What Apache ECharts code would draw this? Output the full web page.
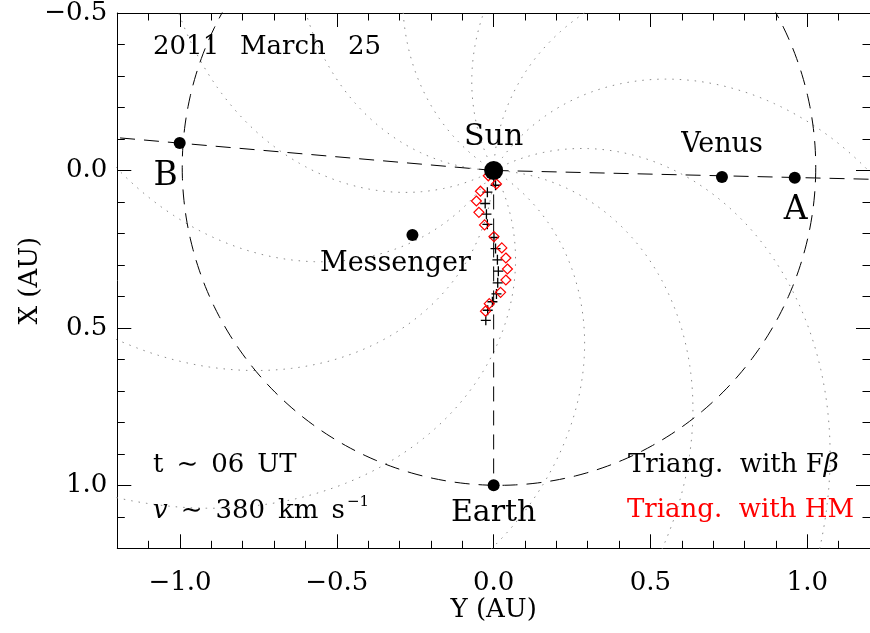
<!DOCTYPE html>
<html><head><meta charset="utf-8">
<script src="https://cdn.jsdelivr.net/npm/echarts@6/dist/echarts.min.js"></script>
<style>html,body{margin:0;padding:0;background:#fff}#c{width:870px;height:633px}</style>
</head><body><div id="c"></div>
<script>
// ---------- data ----------
const xTickValues = [-1.0, -0.5, 0.0, 0.5, 1.0];
const xTickLabels = ['−1.0', '−0.5', '0.0', '0.5', '1.0'];
const xMinorTicks = [-1.2,-1.1,-1.0,-0.9,-0.8,-0.7,-0.6,-0.5,-0.4,-0.3,-0.2,-0.1,0.0,0.1,0.2,0.3,0.4,0.5,0.6,0.7,0.8,0.9,1.0,1.1,1.2];
const yTickValues = [-0.5, 0.0, 0.5, 1.0];
const yTickLabels = ['−0.5', '0.0', '0.5', '1.0'];
const yMinorTicks = [-0.5,-0.4,-0.3,-0.2,-0.1,0.0,0.1,0.2,0.3,0.4,0.5,0.6,0.7,0.8,0.9,1.0,1.1,1.2];

const bodyNames = ['Sun', 'Venus', 'Earth', 'Messenger', 'A', 'B'];
const bodyY = [0.0, 0.728, 0.0, -0.259, 0.960, -1.001];
const bodyX = [0.0, 0.021, 1.0, 0.205, 0.023, -0.087];

const fbetaY = [0.006,-0.020,-0.027,-0.023,-0.020,0.001,0.006,0.012,0.015,0.013,0.009,-0.004,-0.019,-0.025];
const fbetaX = [0.047,0.069,0.105,0.139,0.171,0.213,0.248,0.284,0.320,0.357,0.392,0.417,0.444,0.476];
const hmY = [-0.017,0.009,-0.042,-0.055,-0.047,-0.029,0.001,0.026,0.039,0.044,0.039,0.022,-0.014,-0.026];
const hmX = [0.017,0.043,0.066,0.097,0.133,0.173,0.210,0.246,0.278,0.313,0.348,0.387,0.423,0.447];

const lineBY = [0.0, -1.2], lineBX = [0.0, -0.104];
const lineAY = [0.0, 1.2],  lineAX = [0.0, 0.028];
const earthLineY = [0.0, 0.0], earthLineX = [0.0, 1.0];

const orbitCenterY = 0.017, orbitCenterX = -0.01, orbitRadius = 1.01;
const spiralScaleAU = 1.18;         // AU per radian of winding (v ~ 380 km/s)
const spiralPhasesDeg = [-2, 28, 58, 88, 118, 148, 178, 208, 238, 268, 298, 328];

// ---------- build ----------
const FONT = 'DejaVu Serif';
const SP = '\u2002';
function pairs(a, b) { return a.map((v, i) => [v, b[i]]); }
function fmt(values, labels) {
  return v => { let k = 0, d = 1e9; values.forEach((t, i) => { if (Math.abs(t - v) < d) { d = Math.abs(t - v); k = i; } }); return labels[k]; };
}
const spiralSeries = spiralPhasesDeg.map(p => {
  const pts = [];
  for (let i = 0; i <= 230; i++) {
    const r = i * 0.01;
    const th = p * Math.PI / 180 - r / spiralScaleAU;
    pts.push([r * Math.cos(th), -r * Math.sin(th)]);
  }
  return { type: 'line', data: pts, symbol: 'none', silent: true, animation: false, clip: true,
    lineStyle: { color: '#8a8a8a', width: 1, type: [1.5, 6] }, z: 1 };
});
const orbitPts = [];
for (let i = 0; i <= 360; i++) {
  const a = i * Math.PI / 180;
  orbitPts.push([orbitCenterY + orbitRadius * Math.cos(a), orbitCenterX + orbitRadius * Math.sin(a)]);
}
const dash = { color: '#000', width: 1, type: [15, 9] };
function dashed(d) { return { type: 'line', data: d, symbol: 'none', silent: true, animation: false, clip: true, lineStyle: dash, z: 2 }; }

const labelOffsets = { Sun: [0, -33], Venus: [0, -32], Earth: [0, 28], Messenger: [-17, 29], A: [1, 33], B: [-14, 33] };
const labelSizes = { Sun: 30, Venus: 27, Earth: 30, Messenger: 27, A: 33, B: 33 };
const bodyData = bodyNames.map((n, i) => ({
  name: n, value: [bodyY[i], bodyX[i]], symbolSize: n === 'Sun' ? 19 : 12,
  label: { offset: labelOffsets[n], fontSize: labelSizes[n] }
}));

function xAxisDef(pos, ticks, len, showLine, labels) {
  return { type: 'value', position: pos, min: -1.2, max: 1.2, gridIndex: 0,
    axisLine: { show: showLine, onZero: false, lineStyle: { color: '#000', width: 1 } },
    axisTick: { show: true, inside: true, length: len, customValues: ticks, lineStyle: { color: '#000', width: 1 } },
    axisLabel: labels ? { show: true, customValues: xTickValues, formatter: fmt(xTickValues, xTickLabels), fontFamily: FONT, fontSize: 26, color: '#000', margin: 22 } : { show: false },
    splitLine: { show: false },
    name: labels ? 'Y (AU)' : '', nameLocation: 'middle', nameGap: 49, nameMoveOverlap: false,
    nameTextStyle: { fontFamily: FONT, fontSize: 26, color: '#000' } };
}
function yAxisDef(pos, ticks, len, showLine, labels) {
  return { type: 'value', position: pos, min: -0.5, max: 1.2, inverse: true, gridIndex: 0,
    axisLine: { show: showLine, onZero: false, lineStyle: { color: '#000', width: 1 } },
    axisTick: { show: true, inside: true, length: len, customValues: ticks, lineStyle: { color: '#000', width: 1 } },
    axisLabel: labels ? { show: true, customValues: yTickValues, formatter: fmt(yTickValues, yTickLabels), fontFamily: FONT, fontSize: 26, color: '#000', margin: 10 } : { show: false },
    splitLine: { show: false },
    name: labels ? 'X (AU)' : '', nameLocation: 'middle', nameGap: 74, nameRotate: 90, nameMoveOverlap: false,
    nameTextStyle: { fontFamily: FONT, fontSize: 26, color: '#000' } };
}

const textStyleBase = { fontFamily: FONT, fontSize: 26, fill: '#000', textVerticalAlign: 'middle', verticalAlign: 'middle', textAlign: 'left', align: 'left' };
function txt(x, y, text, extra) {
  return { type: 'text', x: x, y: y, z: 100, style: Object.assign({ text: text, font: '26px "DejaVu Serif"' }, textStyleBase, extra || {}) };
}

const option = {
  backgroundColor: '#fff',
  animation: false,
  grid: { left: 117.3, top: 10.6, width: 758.4, height: 537.7, containLabel: false },
  xAxis: [
    xAxisDef('bottom', xTickValues, 14, true, true),
    xAxisDef('bottom', xMinorTicks, 7.5, false, false),
    xAxisDef('top', xTickValues, 14, true, false),
    xAxisDef('top', xMinorTicks, 7.5, false, false)
  ],
  yAxis: [
    yAxisDef('left', yTickValues, 14, true, true),
    yAxisDef('left', yMinorTicks, 7.5, false, false),
    yAxisDef('right', yTickValues, 14, true, false),
    yAxisDef('right', yMinorTicks, 7.5, false, false)
  ],
  series: [
    ...spiralSeries,
    dashed(orbitPts),
    dashed(pairs(lineBY, lineBX)),
    dashed(pairs(lineAY, lineAX)),
    dashed(pairs(earthLineY, earthLineX)),
    { type: 'scatter', data: pairs(fbetaY, fbetaX), symbol: 'path://M5,0L5,10M0,5L10,5', symbolSize: 10,
      itemStyle: { color: 'rgba(0,0,0,0)', borderColor: '#000', borderWidth: 1.3, opacity: 1 }, z: 5, silent: true },
    { type: 'scatter', data: pairs(hmY, hmX), symbol: 'diamond', symbolSize: 10,
      itemStyle: { color: 'rgba(0,0,0,0)', borderColor: '#ff0000', borderWidth: 1.2, opacity: 1 }, z: 6, silent: true },
    { type: 'scatter', data: bodyData, symbol: 'circle', itemStyle: { color: '#000', opacity: 1 }, z: 10, silent: true,
      label: { show: true, position: 'inside', formatter: '{b}', color: '#000', opacity: 1, fontFamily: FONT, fontSize: 26 } }
  ],
  graphic: [
    txt(153, 47, '2011'),
    txt(240, 47, 'March'),
    txt(348, 47, '25'),
    txt(153, 465, 't' + SP + '∼' + SP + '06' + SP + 'UT'),
    { type: 'text', x: 153, y: 511, z: 100, style: Object.assign({
        text: '{i|v}' + SP + '∼' + SP + '380' + SP + 'km' + SP + 's',
        font: '26px "DejaVu Serif"',
        rich: { i: { fontFamily: FONT, fontSize: 26, fontStyle: 'italic' } }
      }, textStyleBase) },
    txt(347, 502, '−1', { font: '15px "DejaVu Serif"', fontSize: 15 }),
    { type: 'text', x: 628, y: 465, z: 100, style: Object.assign({
        text: 'Triang.  with F{i|β}',
        font: '26px "DejaVu Serif"',
        rich: { i: { fontFamily: FONT, fontSize: 26, fontStyle: 'italic' } }
      }, textStyleBase) },
    txt(627, 510, 'Triang.  with HM', { fill: '#ff0000' })
  ]
};
const chart = echarts.init(document.getElementById('c'), null, { renderer: 'canvas' });
chart.setOption(option);
</script></body></html>
